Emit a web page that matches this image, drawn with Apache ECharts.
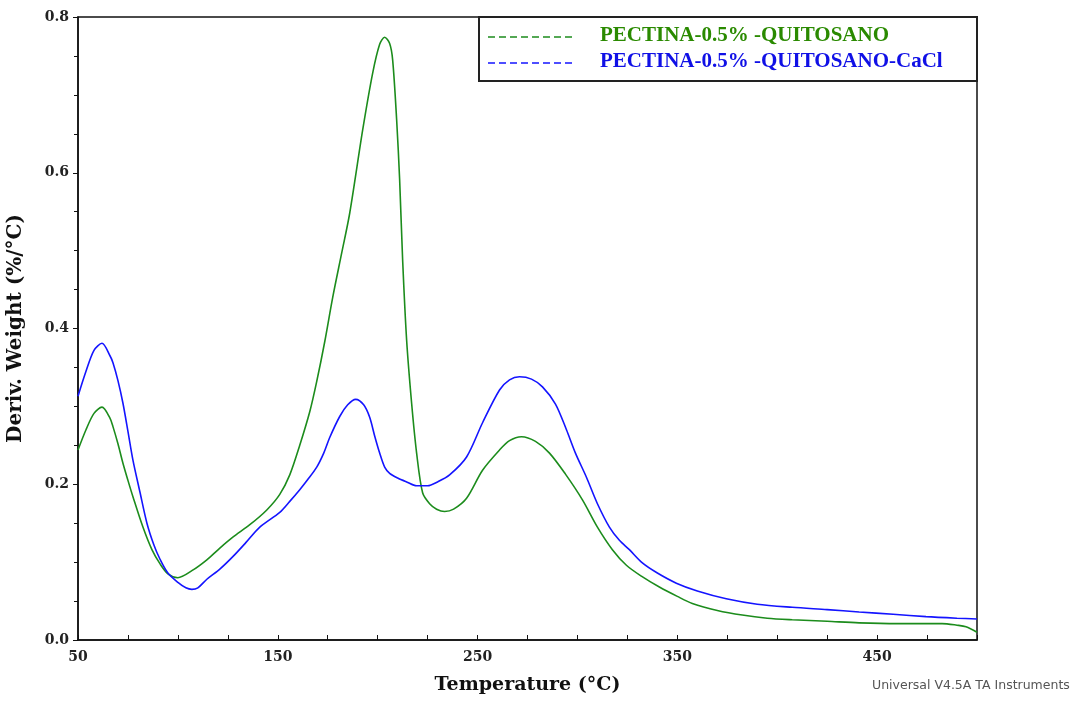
<!DOCTYPE html>
<html>
<head>
<meta charset="utf-8">
<script src="https://cdn.jsdelivr.net/npm/echarts@6/dist/echarts.min.js"></script>
<style>html,body{margin:0;padding:0;background:#fff;}#c{width:1078px;height:703px;}</style>
</head>
<body>
<div id="c"></div>
<script>
// ---- data ----
const greenName = 'PECTINA-0.5% -QUITOSANO';
const blueName = 'PECTINA-0.5% -QUITOSANO-CaCl';
const greenT = [50,54,58,62,66,67.5,70,72.5,75,77.5,82.5,87,91,95,100,107,114.5,121,127.5,136,144.5,151,156,161,166,169.5,173.5,177.5,182,186,192.5,197.5,201,203.5,206,207.5,209.5,211,212.5,214.5,217,219.5,222.5,226,229.5,233.5,238,244.5,252.5,261,266,272,279,286,294,302.5,310,317.5,324.5,332,341,350,357.5,370,382.5,395,407.5,425,441,460,482.5,490,494.5,500];
const greenV = [0.244,0.270,0.291,0.299,0.285,0.274,0.252,0.227,0.205,0.184,0.145,0.116,0.098,0.085,0.080,0.089,0.103,0.118,0.132,0.148,0.167,0.187,0.212,0.250,0.293,0.332,0.383,0.440,0.497,0.548,0.655,0.728,0.765,0.774,0.766,0.745,0.668,0.591,0.488,0.385,0.304,0.240,0.189,0.175,0.168,0.165,0.168,0.182,0.218,0.244,0.256,0.261,0.255,0.240,0.213,0.180,0.145,0.116,0.096,0.082,0.068,0.056,0.047,0.038,0.032,0.028,0.026,0.024,0.022,0.021,0.021,0.019,0.017,0.010];
const blueT = [50,54,58,62,66,67.5,70,72.5,75,77.5,81,84.5,88,91,95,100,104,107,110,114.5,121,127.5,134,141,151,156,161,165,169.5,173,176,181,185,189,193,196,198.5,201,203.5,206,210,214.5,219.5,225,230,236,244.5,252.5,261,266,271,277,282.5,289,294.5,299,304.5,310,316,321,326,332.5,340,349.5,360,374.5,390,407.5,425,441,458,474.5,490,500];
const blueV = [0.313,0.345,0.372,0.381,0.365,0.356,0.333,0.304,0.268,0.231,0.190,0.150,0.122,0.104,0.086,0.074,0.067,0.065,0.067,0.078,0.091,0.107,0.125,0.145,0.164,0.178,0.193,0.206,0.222,0.240,0.260,0.287,0.302,0.309,0.302,0.286,0.262,0.240,0.222,0.214,0.208,0.203,0.198,0.198,0.203,0.212,0.235,0.279,0.321,0.334,0.338,0.335,0.325,0.303,0.270,0.240,0.209,0.175,0.145,0.128,0.116,0.099,0.086,0.073,0.063,0.053,0.046,0.042,0.039,0.036,0.033,0.030,0.028,0.027];
const xTickValues = [50,75,100,125,150,175,200,225,250,275,300,325,350,375,400,425,450,475,500];
const xLabelValues = [50,150,250,350,450];

const green = '#1c8c1c';
const blue = '#1414ff';
const zip = (a, b) => a.map((t, i) => [t, b[i]]);

const chart = echarts.init(document.getElementById('c'));
chart.setOption({
  animation: false,
  backgroundColor: '#fff',
  grid: { left: 78, right: 101, top: 17, bottom: 63, containLabel: false, outerBoundsMode: 'none', show: true, borderColor: '#111', borderWidth: 1.5, backgroundColor: 'transparent' },
  xAxis: {
    type: 'value', min: 50, max: 500,
    name: 'Temperature (°C)', nameLocation: 'middle', nameGap: 36,
    nameTextStyle: { fontFamily: 'DejaVu Serif', fontWeight: 'bold', fontSize: 19, color: '#111' },
    axisLine: { lineStyle: { color: '#111', width: 1.5 } },
    axisTick: { show: true, inside: true, length: 5, customValues: xTickValues, lineStyle: { color: '#111' } },
    axisLabel: { customValues: xLabelValues, fontFamily: 'DejaVu Serif', fontWeight: 'bold', fontSize: 14, color: '#222', margin: 10 },
    splitLine: { show: false }
  },
  yAxis: {
    type: 'value', min: 0, max: 0.8, interval: 0.2,
    name: 'Deriv. Weight (%/°C)', nameLocation: 'middle', nameGap: 52,
    nameTextStyle: { fontFamily: 'DejaVu Serif', fontWeight: 'bold', fontSize: 20, color: '#111' },
    axisLine: { show: true, lineStyle: { color: '#111', width: 1.5 } },
    axisTick: { show: true, length: 5, lineStyle: { color: '#111' } },
    minorTick: { show: true, splitNumber: 4, length: 4, lineStyle: { color: '#111' } },
    axisLabel: { formatter: v => v.toFixed(1), fontFamily: 'DejaVu Serif', fontWeight: 'bold', fontSize: 14, color: '#222', margin: 9 },
    splitLine: { show: false }
  },
  series: [
    { name: greenName, type: 'line', data: zip(greenT, greenV), showSymbol: false, smooth: 0.3, lineStyle: { color: green, width: 1.6 }, itemStyle: { color: green } },
    { name: blueName, type: 'line', data: zip(blueT, blueV), showSymbol: false, smooth: 0.3, lineStyle: { color: blue, width: 1.6 }, itemStyle: { color: blue } }
  ],
  graphic: [
    { type: 'rect', z: 100, shape: { x: 479, y: 17, width: 498, height: 64 }, style: { fill: '#fff', stroke: '#222', lineWidth: 2 } },
    { type: 'line', z: 101, shape: { x1: 488, y1: 37, x2: 575, y2: 37 }, style: { stroke: green, lineWidth: 1.5, lineDash: [7, 4] } },
    { type: 'line', z: 101, shape: { x1: 488, y1: 63, x2: 575, y2: 63 }, style: { stroke: blue, lineWidth: 1.5, lineDash: [7, 4] } },
    { type: 'text', z: 101, left: 600, top: 25, style: { text: greenName, fill: '#2a8a00', font: 'bold 21px "Liberation Serif"' } },
    { type: 'text', z: 101, left: 600, top: 51, style: { text: blueName, fill: '#1010e6', font: 'bold 21px "Liberation Serif"' } },
    { type: 'text', z: 101, left: 872, top: 679, style: { text: 'Universal V4.5A TA Instruments', fill: '#555', font: '12.5px "DejaVu Sans"' } }
  ]
});
</script>
</body>
</html>
